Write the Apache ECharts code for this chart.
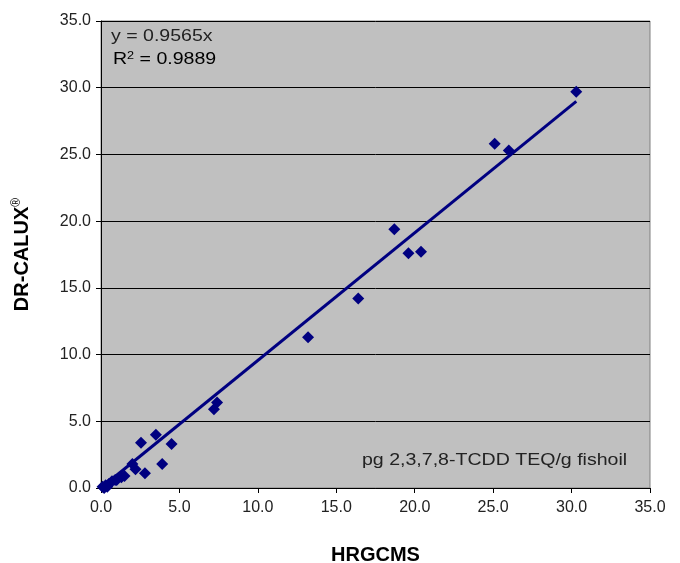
<!DOCTYPE html>
<html>
<head>
<meta charset="utf-8">
<script src="https://cdn.jsdelivr.net/npm/echarts@6/dist/echarts.min.js"></script>
<style>html,body{margin:0;padding:0;background:#fff;}#c{width:680px;height:563px;}</style>
</head>
<body>
<div id="c"></div>
<script>
const hrgcms = [0.1, 0.2, 0.3, 0.4, 0.5, 0.7, 0.9, 1.0, 1.3, 1.5, 2.0, 2.2, 2.55, 2.8, 3.5, 3.9, 4.5, 7.2, 7.4, 13.2, 16.4, 18.7, 19.6, 20.4, 25.1, 26.0, 30.3];
const drcalux = [0.1, 0.0, 0.2, 0.1, 0.3, 0.5, 0.6, 0.6, 0.8, 0.9, 1.8, 1.4, 3.4, 1.1, 4.0, 1.8, 3.3, 5.9, 6.4, 11.3, 14.2, 19.4, 17.6, 17.7, 25.8, 25.3, 29.7];
const slope = 0.9565;
const r2 = 0.9889;
const axisTicks = [0, 5, 10, 15, 20, 25, 30, 35];
const xTitle = 'HRGCMS';
const yTitle = 'DR-CALUX';
const yTitleSup = '®';
const unitNote = 'pg 2,3,7,8-TCDD TEQ/g fishoil';

const points = hrgcms.map((x, i) => [x, drcalux[i]]);
const xMax = Math.max(...hrgcms);
const trend = [[0, 0], [xMax, +(slope * xMax).toFixed(3)]];
const FONT = 'Liberation Sans, Arial, sans-serif';

const chart = echarts.init(document.getElementById('c'), null, {renderer: 'canvas'});
chart.setOption({
  animation: false,
  backgroundColor: '#fff',
  grid: {left: 101, right: 30, top: 21, bottom: 75, outerBoundsMode: 'none', containLabel: false, show: true, backgroundColor: '#c0c0c0', borderColor: '#808080', borderWidth: 1},
  xAxis: {
    type: 'value', min: axisTicks[0], max: axisTicks[axisTicks.length - 1], interval: 5,
    name: xTitle, nameLocation: 'middle', nameGap: 57,
    nameTextStyle: {fontFamily: FONT, fontWeight: 'bold', fontSize: 20, color: '#000'},
    axisLine: {show: true, lineStyle: {color: '#000', width: 1}},
    axisTick: {show: true, length: 5, lineStyle: {color: '#000'}},
    axisLabel: {fontFamily: FONT, fontSize: 16, color: '#222', margin: 12, formatter: v => v.toFixed(1)},
    splitLine: {show: false}
  },
  yAxis: {
    type: 'value', min: axisTicks[0], max: axisTicks[axisTicks.length - 1], interval: 5,
    name: '{t|' + yTitle + '}{s|' + yTitleSup + '}', nameLocation: 'middle', nameGap: 68, nameRotate: 90,
    nameTextStyle: {
      fontFamily: FONT, fontWeight: 'bold', fontSize: 20, color: '#000',
      rich: {
        t: {fontFamily: FONT, fontWeight: 'bold', fontSize: 20, color: '#000'},
        s: {fontFamily: FONT, fontWeight: 'normal', fontSize: 12, color: '#000', verticalAlign: 'top', padding: [0, 0, 10, 0]}
      }
    },
    axisLine: {show: true, lineStyle: {color: '#000', width: 1}},
    axisTick: {show: true, length: 5, lineStyle: {color: '#000'}},
    axisLabel: {fontFamily: FONT, fontSize: 16, color: '#222', margin: 10, formatter: v => v.toFixed(1)},
    splitLine: {show: true, lineStyle: {color: '#000', width: 1}}
  },
  series: [
    {
      type: 'line', data: trend, showSymbol: false, symbol: 'none',
      lineStyle: {color: '#000080', width: 3}, z: 2
    },
    {
      type: 'scatter', data: points, symbol: 'diamond', symbolSize: 12,
      itemStyle: {color: '#000080', opacity: 1}, z: 3
    }
  ],
  graphic: [
    {type: 'text', x: 111, y: 28, scaleX: 1.15, style: {text: 'y = ' + slope + 'x', font: '17px ' + FONT, fill: '#222'}},
    {type: 'text', x: 113, y: 50, scaleX: 1.15, style: {
      text: '{b|R}{s|2}{b| = ' + r2 + '}',
      rich: {b: {fontFamily: FONT, fontSize: 17, color: '#222'}, s: {fontFamily: FONT, fontSize: 11, color: '#222', verticalAlign: 'top', padding: [0, 0, 8, 0]}}
    }},
    {type: 'text', x: 362, y: 452, scaleX: 1.15, style: {text: unitNote, font: '17px ' + FONT, fill: '#222'}}
  ]
});
</script>
</body>
</html>
